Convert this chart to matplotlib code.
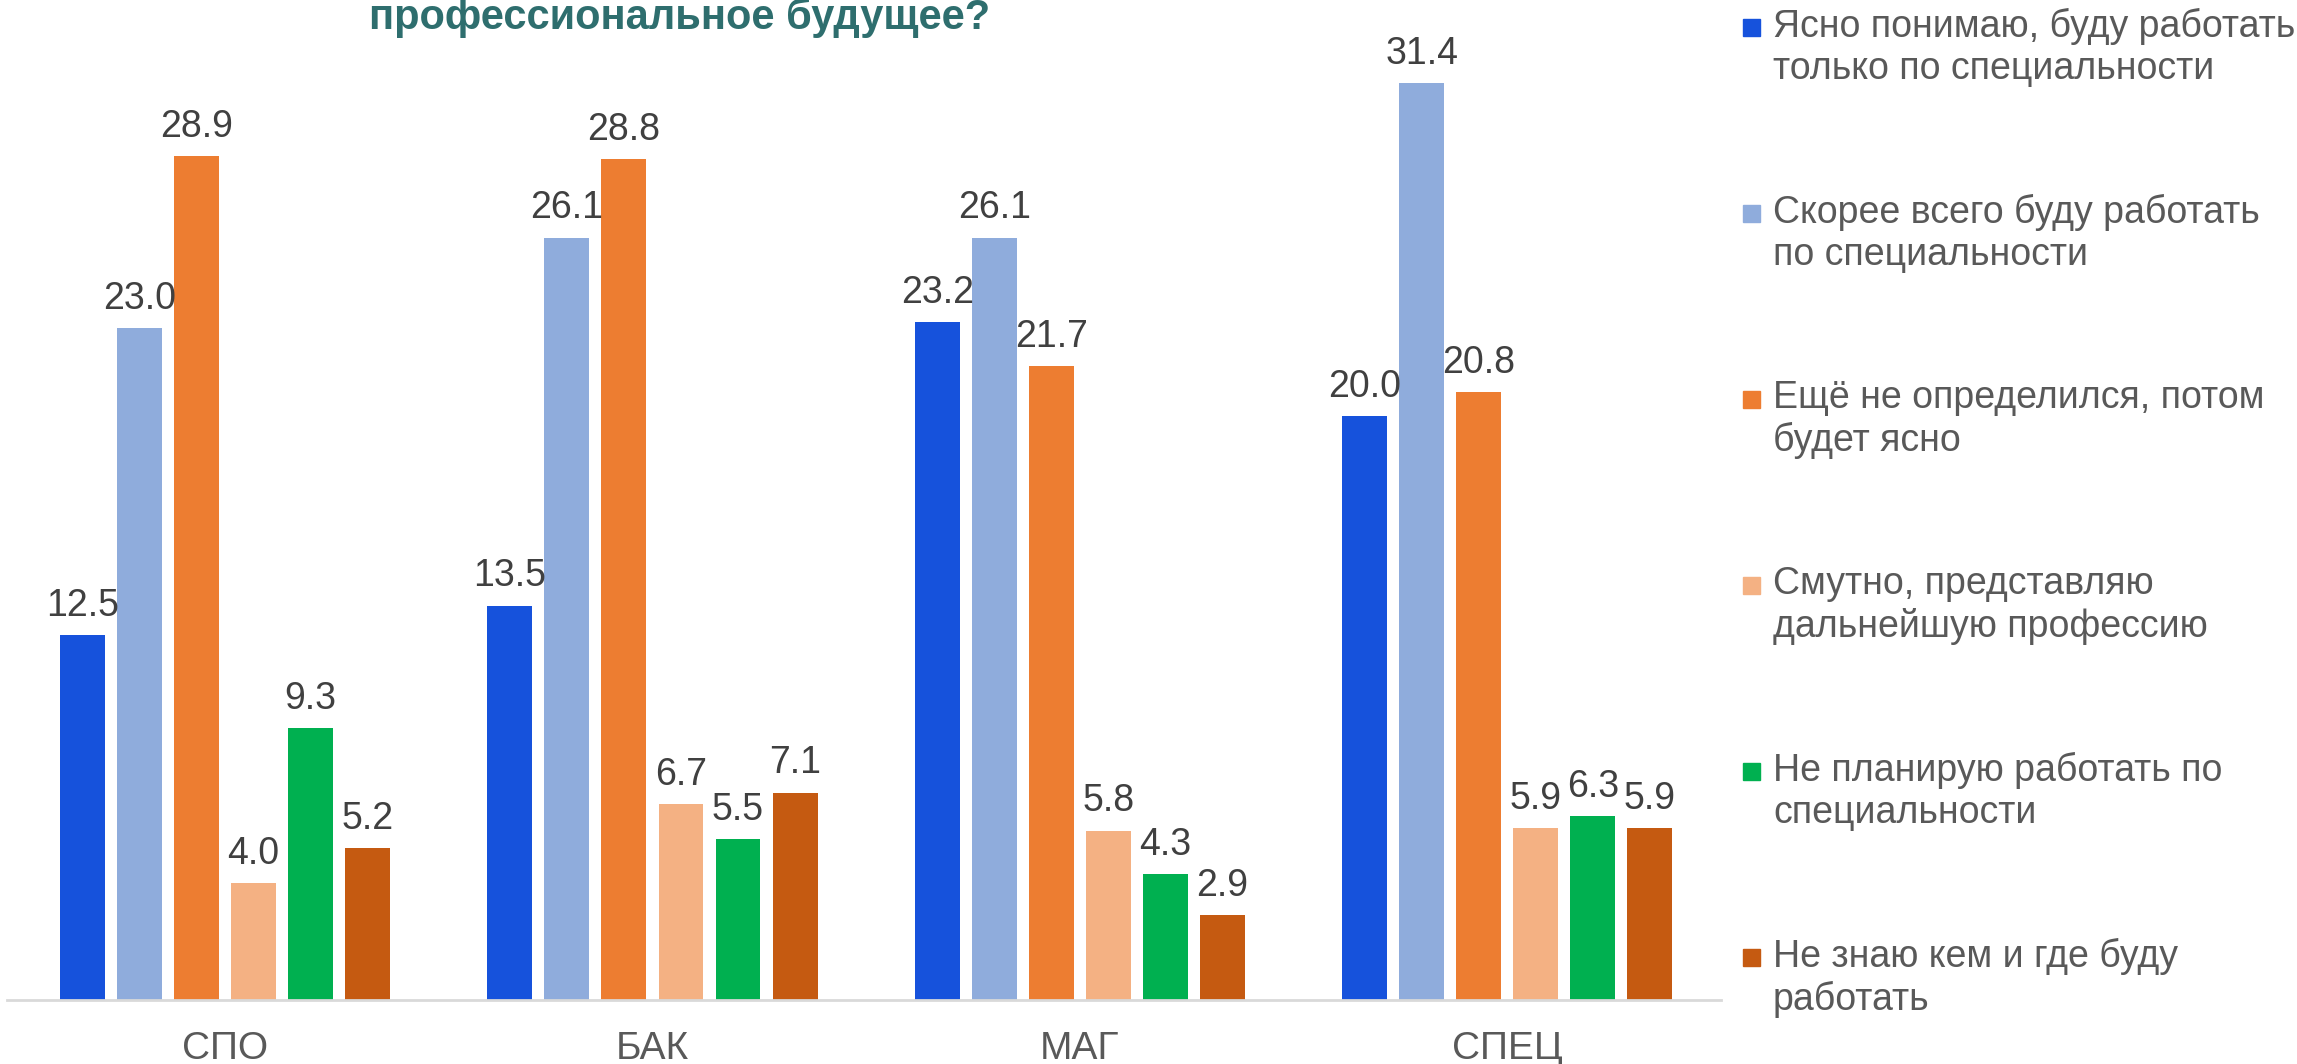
import numpy as np
import matplotlib.pyplot as plt
from matplotlib.patches import Rectangle

plt.rcParams['font.family'] = ['Liberation Sans', 'DejaVu Sans']

categories = ['СПО', 'БАК', 'МАГ', 'СПЕЦ']
series_names = [
    'Ясно понимаю, буду работать\nтолько по специальности',
    'Скорее всего буду работать\nпо специальности',
    'Ещё не определился, потом\nбудет ясно',
    'Смутно, представляю\nдальнейшую профессию',
    'Не планирую работать по\nспециальности',
    'Не знаю кем и где буду\nработать',
]
clear_only = [12.5, 13.5, 23.2, 20.0]
likely = [23.0, 26.1, 26.1, 31.4]
undecided = [28.9, 28.8, 21.7, 20.8]
vague = [4.0, 6.7, 5.8, 5.9]
not_planning = [9.3, 5.5, 4.3, 6.3]
dont_know = [5.2, 7.1, 2.9, 5.9]
values = [clear_only, likely, undecided, vague, not_planning, dont_know]
colors = ['#1652DC', '#8FACDC', '#ED7D31', '#F4B183', '#00B050', '#C55A11']

W, H = 2297, 1064
fig = plt.figure(figsize=(W / 100, H / 100), dpi=100)
ax = fig.add_axes([7 / W, 1 - 1000 / H, (1721 - 7) / W, 1000 / H])

x = np.arange(len(categories))
pitch = 0.1335
width = 0.105
for i, (vals, col) in enumerate(zip(values, colors)):
    bars = ax.bar(x + (i - 2.5) * pitch, vals, width, color=col)
    ax.bar_label(bars, fmt='%.1f', padding=8, fontsize=27, color='#404040')

ax.set_xlim(-0.51, 3.5)
ax.set_ylim(0, 34.23)
ax.set_xticks(x)
ax.set_xticklabels(categories, fontsize=28, color='#595959')
ax.tick_params(axis='x', length=0, pad=22)
ax.set_yticks([])
for s in ['top', 'right', 'left']:
    ax.spines[s].set_visible(False)
ax.spines['bottom'].set_color('#D9D9D9')
ax.spines['bottom'].set_linewidth(2)

# title (first line is cut off in the source)
fig.text(680 / W, 1 - 29 / H, 'профессиональное будущее?', ha='center', va='baseline',
         fontsize=30, fontweight='bold', color='#2E6E6E')

# legend drawn by hand so the marker sits on the first line
for i, (name, col) in enumerate(zip(series_names, colors)):
    y0 = 27 + i * 186
    fig.patches.append(Rectangle((1743 / W, 1 - (y0 + 9) / H), 17 / W, 17 / H,
                                 transform=fig.transFigure, color=col))
    fig.text(1773 / W, 1 - (y0 - 19) / H, name, ha='left', va='top',
             fontsize=27, color='#595959', linespacing=1.2)

fig.savefig('out.png', dpi=100)
